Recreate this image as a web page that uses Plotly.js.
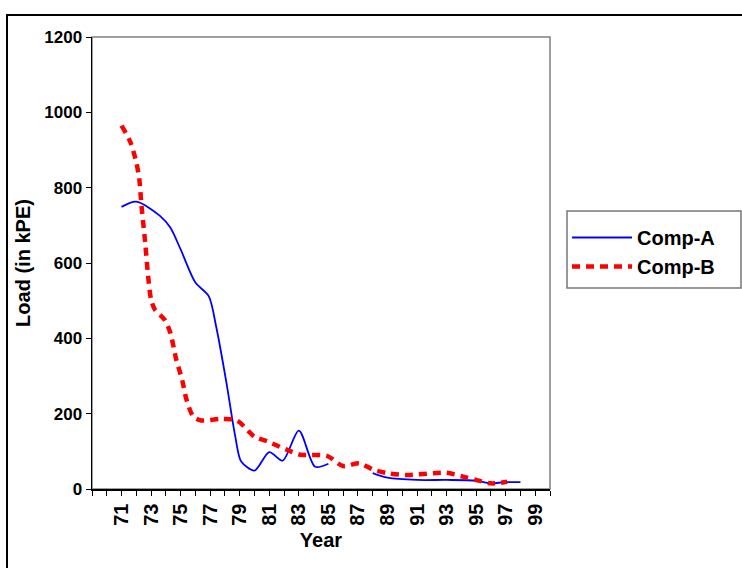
<!DOCTYPE html>
<html>
<head>
<meta charset="utf-8">
<script src="https://cdn.plot.ly/plotly-3.0.1.min.js"></script>
<style>
html, body { margin: 0; padding: 0; background: #fff; }
#chart { width: 742px; height: 568px; }
</style>
</head>
<body>
<div id="chart"></div>
<script>
// Data
const yearsA = [71, 72, 73.6, 74.3, 75, 76, 76.9, 77.4, 78.1, 78.7, 79.1, 80, 81, 81.9, 83, 84.1, 85, 86, 88, 89, 91, 93, 95, 96, 96.9, 98];
const loadA  = [749, 763, 725, 694, 636, 548, 512, 432, 282, 139, 73, 49, 98, 75, 155, 59, 67, null, 42, 30, 24, 24, 22, 15, 18, 18];

const yearsB = [71, 71.6, 72, 72.2, 72.35, 72.6, 72.8, 73, 73.25, 73.9, 74.3, 74.7, 75.1, 75.4, 75.85, 76.4, 77.7, 78.8, 80, 80.9, 82.2, 83.1, 84.9, 86, 87.1, 88, 89, 90.3, 92.1, 93, 94.1, 95, 96, 97.1];
const loadB  = [965, 921, 867, 823, 752, 654, 565, 503, 477, 450, 415, 344, 290, 237, 193, 182, 186, 182, 139, 126, 104, 91, 88, 61, 68, 52, 42, 37, 42, 43, 33, 24, 15, 19];

const seriesNames = ["Comp-A", "Comp-B"];
const yTicks = [0, 200, 400, 600, 800, 1000, 1200];
const xTickVals = [71, 73, 75, 77, 79, 81, 83, 85, 87, 89, 91, 93, 95, 97, 99];
const xTickText = xTickVals.map(String);

const fam = "Liberation Sans, Arial, sans-serif";
const yTickFont = { family: fam, size: 17, color: "#000", weight: "bold" };
const xTickFont = { family: fam, size: 20, color: "#000", weight: "bold" };
const titleFont = { family: fam, size: 20, color: "#000", weight: "bold" };

const M = { l: 92, r: 192, t: 37, b: 79 };
const W = 742, H = 568;
const pw = W - M.l - M.r, ph = H - M.t - M.b;
const px2x = p => (p - M.l) / pw;
const py2y = p => (H - M.b - p) / ph;

const traces = [
  {
    x: yearsA, y: loadA, name: seriesNames[0], type: "scatter", mode: "lines",
    line: { color: "#0000ff", width: 1.8, shape: "spline", smoothing: 0.8 },
    connectgaps: false
  },
  {
    x: yearsB, y: loadB, name: seriesNames[1], type: "scatter", mode: "lines",
    line: { color: "#ff0000", width: 4.5, shape: "spline", smoothing: 0.8, dash: "8px,6px" }
  }
];

const layout = {
  width: W, height: H,
  margin: M,
  paper_bgcolor: "#fff", plot_bgcolor: "#fff",
  font: titleFont,
  showlegend: true,
  legend: {
    x: px2x(567), y: py2y(218), xanchor: "left", yanchor: "top",
    borderwidth: 0, bgcolor: "rgba(0,0,0,0)",
    font: { family: fam, size: 20, color: "#000", weight: "bold" },
    tracegroupgap: 0, itemwidth: 60
  },
  xaxis: {
    range: [69, 100],
    tickmode: "array", tickvals: xTickVals, ticktext: xTickText,
    tickangle: -90,
    ticks: "outside", ticklen: 5, tickcolor: "#000", tickwidth: 1,
    minor: { dtick: 1, tick0: 69, ticks: "outside", ticklen: 5, tickcolor: "#000", tickwidth: 1, showgrid: false },
    showline: true, linecolor: "#000", linewidth: 1.5,
    showgrid: false, zeroline: false,
    tickfont: xTickFont,
    title: { text: "Year", font: titleFont, standoff: 8 }
  },
  yaxis: {
    range: [0, 1200],
    tickmode: "array", tickvals: yTicks,
    ticks: "outside", ticklen: 5, tickcolor: "#000", tickwidth: 1,
    showline: true, linecolor: "#000", linewidth: 1.5,
    showgrid: false, zeroline: false,
    tickfont: yTickFont,
    title: { text: "Load (in kPE)", font: titleFont, standoff: 8 }
  },
  shapes: [
    { type: "rect", xref: "paper", yref: "paper", x0: 0, x1: 1, y0: 0, y1: 1,
      line: { color: "#808080", width: 1.5 }, layer: "below" },
    { type: "rect", xref: "paper", yref: "paper",
      x0: px2x(7), x1: px2x(760), y0: py2y(600), y1: py2y(15),
      line: { color: "#000", width: 2 }, layer: "below" },
    { type: "rect", xref: "paper", yref: "paper",
      x0: px2x(567), x1: px2x(741), y0: py2y(288), y1: py2y(211),
      line: { color: "#777", width: 1.5 }, layer: "below" }
  ]
};

Plotly.newPlot("chart", traces, layout, { displayModeBar: false, staticPlot: true });
</script>
</body>
</html>
